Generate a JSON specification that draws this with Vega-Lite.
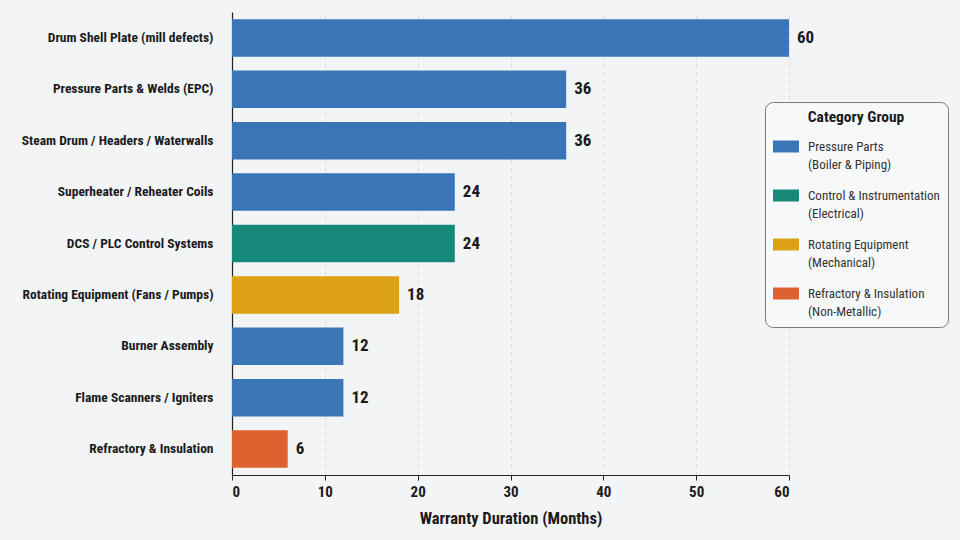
{
  "$schema": "https://vega.github.io/schema/vega-lite/v6.json",
  "width": 557,
  "height": 463,
  "autosize": {"type": "none"},
  "padding": {"left": 232, "top": 12, "right": 171, "bottom": 65},
  "background": "#f2f4f6",
  "data": {
    "values": [
      {"item": "Drum Shell Plate (mill defects)", "months": 60, "group": "Pressure Parts\n(Boiler & Piping)"},
      {"item": "Pressure Parts & Welds (EPC)", "months": 36, "group": "Pressure Parts\n(Boiler & Piping)"},
      {"item": "Steam Drum / Headers / Waterwalls", "months": 36, "group": "Pressure Parts\n(Boiler & Piping)"},
      {"item": "Superheater / Reheater Coils", "months": 24, "group": "Pressure Parts\n(Boiler & Piping)"},
      {"item": "DCS / PLC Control Systems", "months": 24, "group": "Control & Instrumentation\n(Electrical)"},
      {"item": "Rotating Equipment (Fans / Pumps)", "months": 18, "group": "Rotating Equipment\n(Mechanical)"},
      {"item": "Burner Assembly", "months": 12, "group": "Pressure Parts\n(Boiler & Piping)"},
      {"item": "Flame Scanners / Igniters", "months": 12, "group": "Pressure Parts\n(Boiler & Piping)"},
      {"item": "Refractory & Insulation", "months": 6, "group": "Refractory & Insulation\n(Non-Metallic)"}
    ]
  },
  "encoding": {
    "y": {
      "field": "item",
      "type": "nominal",
      "sort": null,
      "scale": {"paddingInner": 0.27, "paddingOuter": 0.14},
      "axis": {
        "title": null,
        "ticks": false,
        "labelPadding": 19,
        "labelLimit": 300,
        "labelFontSize": 13.5,
        "labelFontWeight": "bold",
        "labelColor": "#1a1a1a",
        "domainColor": "#222222",
        "domainWidth": 1.2
      }
    },
    "x": {
      "field": "months",
      "type": "quantitative",
      "scale": {"domain": [0, 60], "nice": false},
      "axis": {
        "title": "Warranty Duration (Months)",
        "titleFontSize": 16.5,
        "titleFontWeight": "bold",
        "titleColor": "#1a1a1a",
        "titlePadding": 11,
        "values": [0, 10, 20, 30, 40, 50, 60],
        "labelFontSize": 15,
        "labelFontWeight": "bold",
        "labelColor": "#1a1a1a",
        "labelPadding": 4,
        "tickColor": "#222222",
        "tickSize": 5,
        "domainColor": "#222222",
        "domainWidth": 1.2,
        "grid": true,
        "gridDash": [4, 4],
        "gridColor": "#d8dbde",
        "gridWidth": 1
      }
    }
  },
  "layer": [
    {
      "mark": {"type": "bar"},
      "encoding": {
        "color": {
          "field": "group",
          "type": "nominal",
          "scale": {
            "domain": [
              "Pressure Parts\n(Boiler & Piping)",
              "Control & Instrumentation\n(Electrical)",
              "Rotating Equipment\n(Mechanical)",
              "Refractory & Insulation\n(Non-Metallic)"
            ],
            "range": ["#3a76b7", "#17897b", "#dca114", "#de6130"]
          },
          "legend": {
            "title": "Category Group",
            "titleFontSize": 15.5,
            "titleFontWeight": "bold",
            "titleColor": "#1a1a1a",
            "titleAnchor": "middle",
            "titlePadding": 8,
            "orient": "none",
            "legendX": 533,
            "legendY": 90,
            "labelExpr": "split(datum.label, '\\n')",
            "labelFontSize": 13,
            "labelColor": "#333333",
            "labelLimit": 300,
            "labelOffset": 9,
            "labelBaseline": "middle",
            "symbolType": "M-1,-0.46H1V0.46H-1Z",
            "symbolSize": 676,
            "symbolStrokeWidth": 0,
            "rowPadding": 11,
            "padding": 8,
            "strokeColor": "#7a7a7a",
            "fillColor": "#f7f8f9",
            "cornerRadius": 8
          }
        }
      }
    },
    {
      "mark": {"type": "text", "align": "left", "baseline": "middle", "dx": 8, "fontSize": 17, "fontWeight": "bold", "color": "#1a1a1a"},
      "encoding": {
        "text": {"field": "months", "type": "quantitative"}
      }
    }
  ],
  "config": {
    "font": "Liberation Sans Narrow, Roboto Condensed, Arial Narrow, Roboto, sans-serif",
    "view": {"stroke": null},
    "style": {"guide-label": {"lineHeight": 18}}
  }
}
